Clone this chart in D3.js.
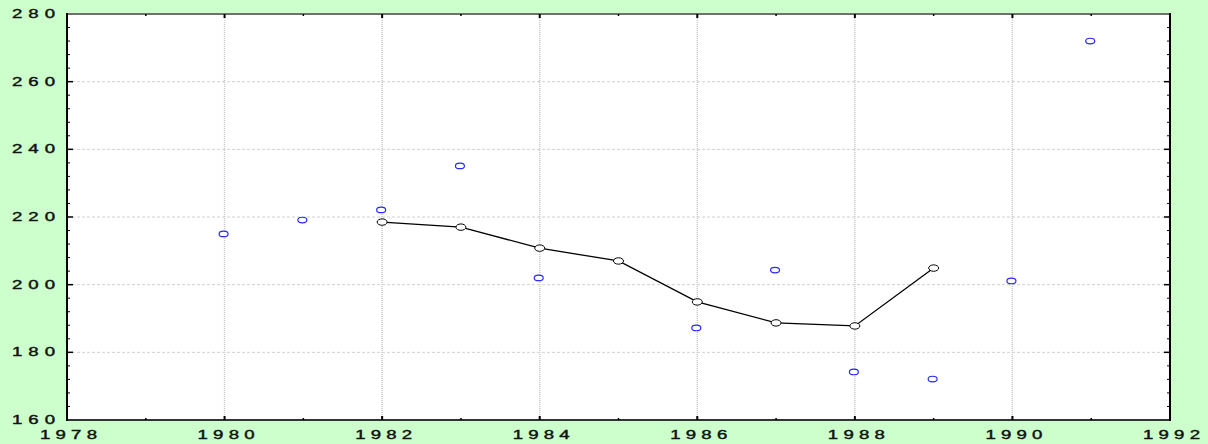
<!DOCTYPE html>
<html>
<head>
<meta charset="utf-8">
<script src="https://cdn.jsdelivr.net/npm/d3@7"></script>
<style>
  html, body { margin: 0; padding: 0; background: #ccffcc; }
  text { font-family: "Liberation Sans", Arial, sans-serif; fill: #111; stroke: #111; stroke-width: 0.4; }
</style>
</head>
<body>
<div id="chart"></div>
<script>
const width = 1208;
const height = 444;

// fitted line (1982-1989)
const lineYears = [1982, 1983, 1984, 1985, 1986, 1987, 1988, 1989];
const lineValues = [218.5, 217.0, 210.8, 207.0, 194.9, 188.7, 187.8, 204.9];

// observed points
const obsYears = [1980, 1981, 1982, 1983, 1984, 1986, 1987, 1988, 1989, 1990, 1991];
const obsValues = [215.0, 219.1, 222.1, 235.1, 202.0, 187.2, 204.3, 174.2, 172.1, 201.1, 272.0];

const xTicks = [1978, 1980, 1982, 1984, 1986, 1988, 1990, 1992];
const xMinor = [1979, 1981, 1983, 1985, 1987, 1989, 1991];
const yTicks = [160, 180, 200, 220, 240, 260, 280];
const yMinor = d3.range(160, 281, 4).filter(v => v % 20 !== 0);

const m = { left: 67, right: 38, top: 14, bottom: 24 };
const sx = 1.55; // horizontal stretch of the label glyphs

const svg = d3.select('#chart').append('svg')
    .attr('width', width)
    .attr('height', height);

const x = d3.scaleLinear().domain([1978, 1992]).range([m.left, width - m.right]);
const y = d3.scaleLinear().domain([160, 280]).range([height - m.bottom, m.top]);

// plot background
svg.append('rect')
    .attr('x', x(1978)).attr('y', y(280))
    .attr('width', x(1992) - x(1978))
    .attr('height', y(160) - y(280))
    .attr('fill', '#fff');

// grid
svg.append('g').selectAll('line')
    .data(xTicks.slice(1, -1))
    .enter().append('line')
    .attr('x1', d => x(d)).attr('x2', d => x(d))
    .attr('y1', y(280)).attr('y2', y(160))
    .attr('stroke', '#c8c8c8')
    .attr('stroke-width', 1.5)
    .attr('stroke-dasharray', '1,1');

svg.append('g').selectAll('line')
    .data(yTicks.slice(1, -1))
    .enter().append('line')
    .attr('x1', x(1978)).attr('x2', x(1992))
    .attr('y1', d => y(d)).attr('y2', d => y(d))
    .attr('stroke', '#d0d0d0')
    .attr('stroke-width', 1)
    .attr('stroke-dasharray', '3,2');

// frame
const frame = svg.append('g');
frame.append('line').attr('x1', x(1978)).attr('x2', x(1992)).attr('y1', y(280)).attr('y2', y(280))
    .attr('stroke', '#707070').attr('stroke-width', 2);
frame.append('line').attr('x1', x(1978)).attr('x2', x(1992)).attr('y1', y(160)).attr('y2', y(160))
    .attr('stroke', '#333').attr('stroke-width', 2);
frame.append('line').attr('x1', x(1978)).attr('x2', x(1978)).attr('y1', y(280) - 1).attr('y2', y(160) + 1)
    .attr('stroke', '#000').attr('stroke-width', 2);
frame.append('line').attr('x1', x(1992)).attr('x2', x(1992)).attr('y1', y(280) - 1).attr('y2', y(160) + 1)
    .attr('stroke', '#000').attr('stroke-width', 2);

// inward ticks
const ticks = svg.append('g').attr('stroke', '#000');
const addXTicks = (vals, len, w) => vals.forEach(v => {
    ticks.append('line').attr('x1', x(v)).attr('x2', x(v)).attr('y1', y(160)).attr('y2', y(160) - len).attr('stroke-width', w);
    ticks.append('line').attr('x1', x(v)).attr('x2', x(v)).attr('y1', y(280)).attr('y2', y(280) + len).attr('stroke-width', w);
});
addXTicks(xTicks.slice(1, -1), 4, 2);
addXTicks(xMinor, 2, 1.5);
const addYTicks = (vals, len, w) => vals.forEach(v => {
    ticks.append('line').attr('x1', x(1978)).attr('x2', x(1978) + len).attr('y1', y(v)).attr('y2', y(v)).attr('stroke-width', w);
    ticks.append('line').attr('x1', x(1992)).attr('x2', x(1992) - len).attr('y1', y(v)).attr('y2', y(v)).attr('stroke-width', w);
});
addYTicks(yTicks.slice(1, -1), 6, 1.5);
addYTicks(yMinor, 3, 1);

// tick labels: wide glyphs with open spacing
svg.append('g').attr('transform', `scale(${sx},1)`)
    .selectAll('text')
    .data(yTicks)
    .enter().append('text')
    .attr('x', 12 / sx)
    .attr('y', d => y(d) + 4)
    .attr('font-size', 12)
    .attr('textLength', 43 / sx)
    .attr('lengthAdjust', 'spacing')
    .text(d => d);

svg.append('g').attr('transform', `scale(${sx},1)`)
    .selectAll('text')
    .data(xTicks)
    .enter().append('text')
    .attr('x', d => (x(d) - 27) / sx)
    .attr('y', 439)
    .attr('font-size', 12)
    .attr('textLength', 57 / sx)
    .attr('lengthAdjust', 'spacing')
    .text(d => d);

// fitted line
const line = d3.line().x(d => x(d[0])).y(d => y(d[1]));
const linePts = lineYears.map((yr, i) => [yr, lineValues[i]]);
svg.append('path')
    .datum(linePts)
    .attr('d', line)
    .attr('fill', 'none')
    .attr('stroke', '#000')
    .attr('stroke-width', 1.3);

svg.append('g').selectAll('ellipse')
    .data(linePts)
    .enter().append('ellipse')
    .attr('cx', d => x(d[0]))
    .attr('cy', d => y(d[1]))
    .attr('rx', 5).attr('ry', 3.2)
    .attr('fill', '#fff')
    .attr('stroke', '#000')
    .attr('stroke-width', 1);

// observed points
svg.append('g').selectAll('ellipse')
    .data(obsYears.map((yr, i) => [yr, obsValues[i]]))
    .enter().append('ellipse')
    .attr('cx', d => x(d[0]) - 1)
    .attr('cy', d => y(d[1]))
    .attr('rx', 4.5).attr('ry', 2.8)
    .attr('fill', '#fff')
    .attr('stroke', '#2a2aff')
    .attr('stroke-width', 1.2);
</script>
</body>
</html>
